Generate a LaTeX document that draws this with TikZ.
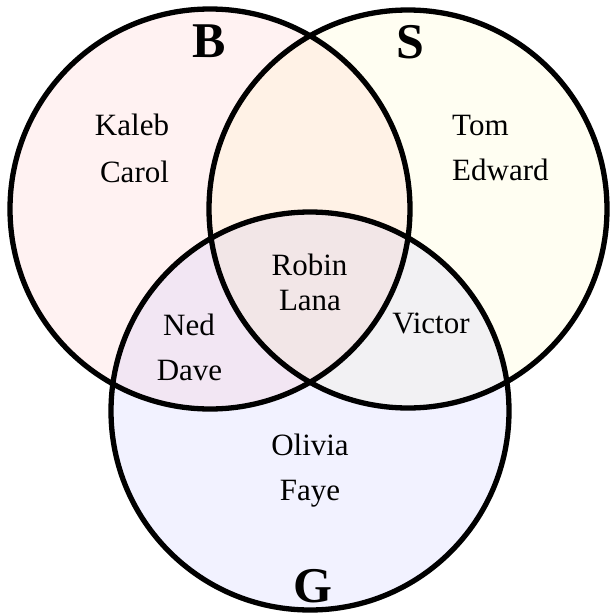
\documentclass[tikz,border=0pt]{standalone}
\usepackage{fontspec}
\setmainfont{Liberation Serif}
\begin{document}
\begin{tikzpicture}[x=1pt,y=-1pt,
  ring/.style={draw=black,line width=5.3pt},
  tint/.style={fill opacity=0.05},
  person/.style={anchor=base,inner sep=0pt,font=\fontsize{31}{31}\selectfont},
  setlabel/.style={anchor=base,inner sep=0pt,font=\fontsize{50}{50}\selectfont\bfseries}]
\useasboundingbox (0,0) rectangle (611,616);
\coordinate (cB) at (210,209);
\coordinate (cS) at (408,209);
\coordinate (cG) at (310,411);
% fills
\fill[red,tint] (cB) circle[radius=200];
\fill[yellow,tint] (cS) circle[radius=199];
\fill[blue,tint] (cG) circle[radius=199];
% outlines
\draw[ring] (cB) circle[radius=200];
\draw[ring] (cS) circle[radius=199];
\draw[ring] (cG) circle[radius=199];
% set labels
\node[setlabel] (lB) at (209,57) {B};
\node[setlabel] (lS) at (410,58) {S};
\node[setlabel] (lG) at (313,602) {G};
% names
\node[person] (kaleb) at (132,135) {Kaleb};
\node[person] (carol) at (134.5,182) {Carol};
\node[person,anchor=base west] (tom) at (452,135) {Tom};
\node[person,anchor=base west] (edward) at (452,180) {Edward};
\node[person] (robin) at (309.5,275) {Robin};
\node[person] (lana) at (310,310) {Lana};
\node[person] (ned) at (189,335) {Ned};
\node[person] (dave) at (189.5,380) {Dave};
\node[person] (victor) at (431,333) {Victor};
\node[person] (olivia) at (310,455) {Olivia};
\node[person] (faye) at (310,500) {Faye};
\end{tikzpicture}
\end{document}
